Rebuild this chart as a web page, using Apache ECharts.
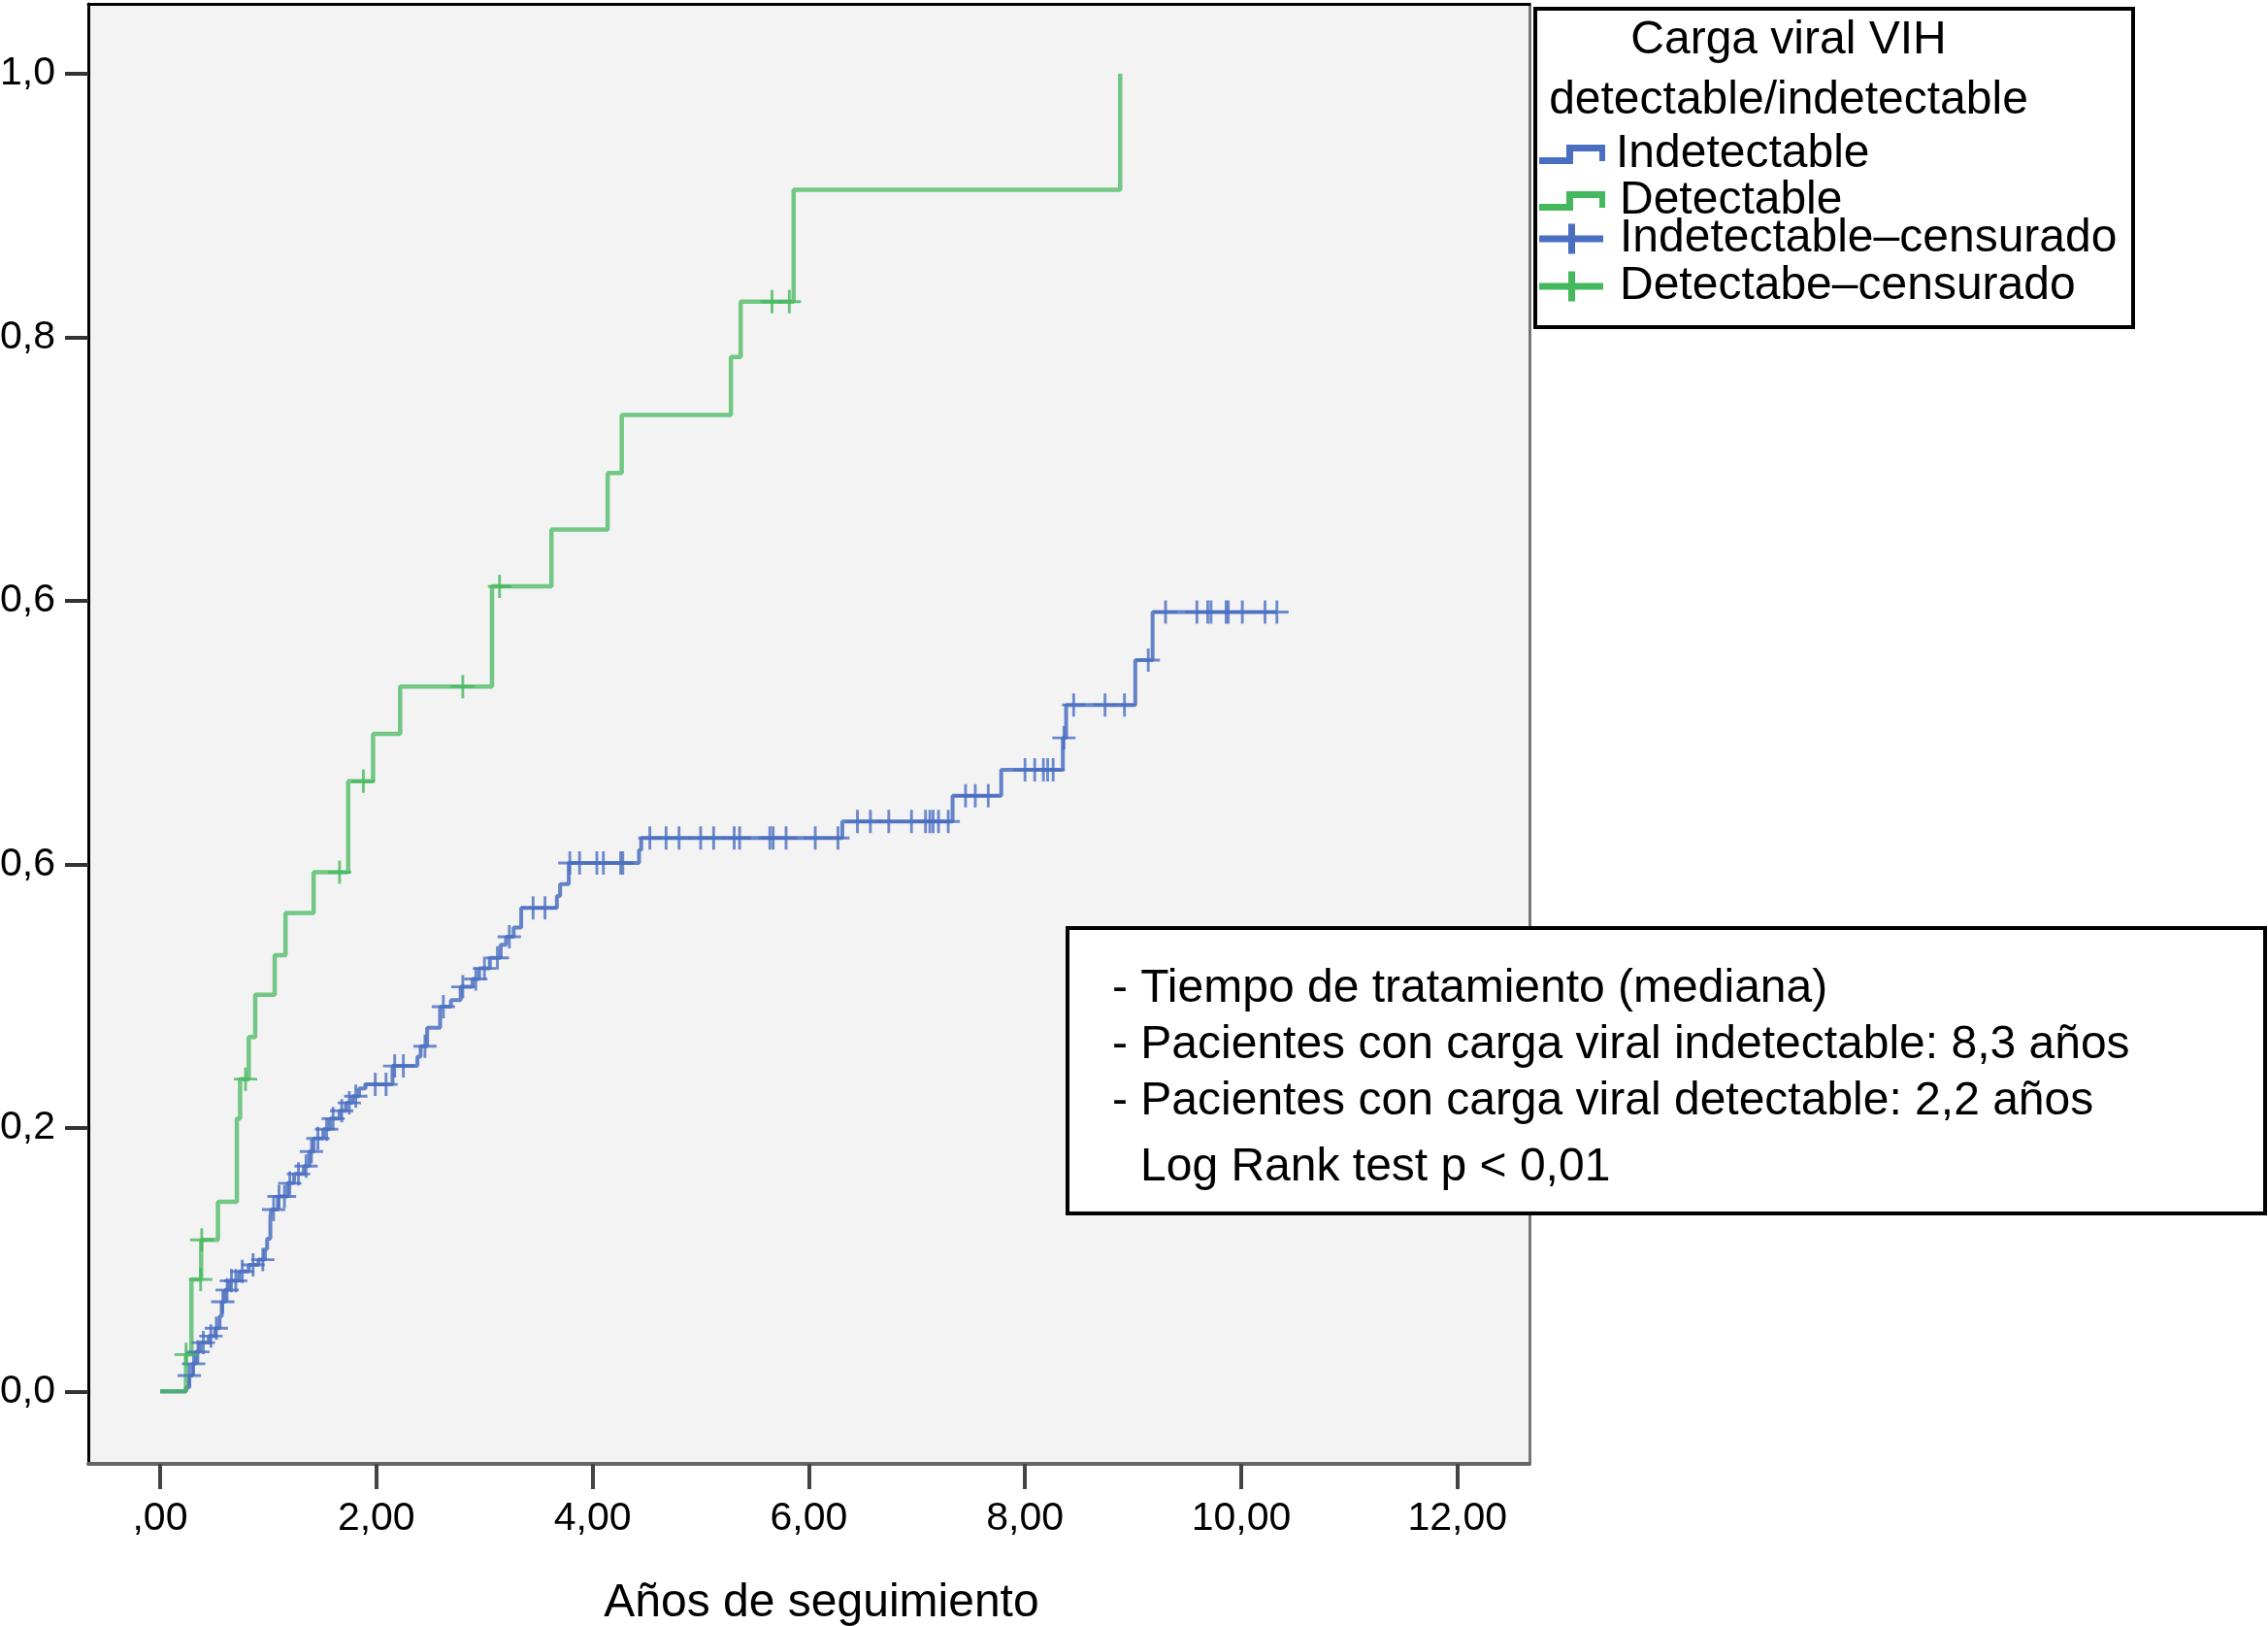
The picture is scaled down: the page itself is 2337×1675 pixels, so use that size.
<!DOCTYPE html>
<html>
<head>
<meta charset="utf-8">
<script src="https://cdn.jsdelivr.net/npm/echarts@6/dist/echarts.min.js"></script>
<style>
html,body{margin:0;padding:0;background:#fff;}
#chart{width:2337px;height:1675px;}
</style>
</head>
<body>
<div id="chart"></div>
<script>
// ---- Data ----
const xTickValues = [0, 2, 4, 6, 8, 10, 12];
const xTickLabels = [",00", "2,00", "4,00", "6,00", "8,00", "10,00", "12,00"];
const yTickValues = [0, 0.2, 0.4, 0.6, 0.8, 1.0];
const yTickLabels = ["0,0", "0,2", "0,6", "0,6", "0,8", "1,0"];

// Detectable (green) step curve: event times and cumulative value after each step
const greenTimes  = [0, 0.24, 0.29, 0.38, 0.535, 0.71, 0.74, 0.82, 0.88, 1.06, 1.16, 1.42, 1.74, 1.97, 2.22, 3.07, 3.62, 4.14, 4.27, 5.28, 5.37, 5.86, 8.88];
const greenValues = [0, 0.028, 0.085, 0.115, 0.144, 0.207, 0.237, 0.269, 0.301, 0.331, 0.363, 0.394, 0.463, 0.499, 0.535, 0.611, 0.654, 0.697, 0.741, 0.785, 0.827, 0.912, 1.0];
const greenCensorTimes = [0.24, 0.375, 0.385, 0.79, 1.66, 1.88, 2.80, 3.14, 5.66, 5.82];

// Indetectable (blue) step curve
const blueTimes  = [0, 0.24, 0.27, 0.30, 0.33, 0.37, 0.45, 0.51, 0.55, 0.57, 0.60, 0.64, 0.73, 0.82, 0.91, 0.97, 0.99, 1.02, 1.03, 1.09, 1.18, 1.24, 1.33, 1.38, 1.42, 1.51, 1.57, 1.66, 1.72, 1.78, 1.84, 1.90, 2.15, 2.38, 2.41, 2.47, 2.59, 2.69, 2.78, 2.89, 2.95, 3.05, 3.15, 3.20, 3.27, 3.34, 3.67, 3.70, 3.78, 4.43, 4.45, 6.31, 7.33, 7.78, 8.35, 8.38, 9.02, 9.18, 10.33];
const blueValues = [0, 0.003, 0.012, 0.021, 0.030, 0.037, 0.042, 0.048, 0.057, 0.068, 0.077, 0.084, 0.091, 0.096, 0.100, 0.108, 0.116, 0.133, 0.138, 0.148, 0.158, 0.165, 0.171, 0.182, 0.192, 0.199, 0.207, 0.213, 0.219, 0.224, 0.230, 0.233, 0.247, 0.254, 0.262, 0.276, 0.292, 0.297, 0.307, 0.313, 0.321, 0.329, 0.339, 0.345, 0.352, 0.367, 0.376, 0.385, 0.401, 0.411, 0.420, 0.4325, 0.452, 0.4717, 0.496, 0.521, 0.555, 0.5915, 0.5915];
const blueCensorTimes = [0.27, 0.31, 0.35, 0.40, 0.47, 0.52, 0.58, 0.62, 0.66, 0.70, 0.76, 0.86, 0.95, 1.05, 1.10, 1.15, 1.20, 1.28, 1.35, 1.40, 1.46, 1.54, 1.60, 1.68, 1.75, 1.81, 1.99, 2.09, 2.17, 2.25, 2.45, 2.62, 2.80, 2.92, 3.00, 3.12, 3.23, 3.45, 3.56, 3.79, 3.88, 4.04, 4.10, 4.26, 4.28,
  4.53, 4.68, 4.80, 5.00, 5.12, 5.31, 5.36, 5.64, 5.67, 5.79, 6.06, 6.27,
  6.45, 6.57, 6.74, 6.95, 7.08, 7.12, 7.15, 7.20, 7.29,
  7.45, 7.54, 7.66,
  8.00, 8.09, 8.17, 8.21, 8.26, 8.36,
  8.45, 8.74, 8.92, 9.14,
  9.30, 9.59, 9.69, 9.72, 9.86, 9.88, 10.01, 10.22, 10.33];

const legendTitle = ["Carga viral VIH", "detectable/indetectable"];
const seriesNames = ["Indetectable", "Detectable", "Indetectable\u2013censurado", "Detectabe\u2013censurado"];
const noteLines = [
  "- Tiempo de tratamiento (mediana)",
  "- Pacientes con carga viral indetectable: 8,3 a\u00f1os",
  "- Pacientes con carga viral detectable: 2,2 a\u00f1os",
  "Log Rank test p < 0,01"
];

// ---- Helpers ----
function stepAt(times, values, t) {
  let v = values[0];
  for (let i = 0; i < times.length; i++) { if (times[i] <= t + 1e-9) v = values[i]; }
  return v;
}
function labelFor(vals, labels) {
  return function (v) {
    const i = vals.findIndex(function (t) { return Math.abs(t - v) < 1e-6; });
    return i >= 0 ? labels[i] : '';
  };
}

const FONT = '"Liberation Sans", Arial, Helvetica, sans-serif';
const BLUE = '#4a6ec0';
const GREEN = '#45b85e';
const plusMark = 'path://M0,11L11,11L11,0L14,0L14,11L25,11L25,14L14,14L14,25L11,25L11,14L0,14Z';
const stepIcon = 'path://M0,13L28,13L28,0L68,0L68,17L62,17L62,7L35,7L35,20L0,20Z';
const plusIcon = 'path://M0,12L30,12L30,0L37,0L37,12L66,12L66,19L37,19L37,31L30,31L30,19L0,19Z';

const chart = echarts.init(document.getElementById('chart'), null, {renderer: 'canvas'});

function mkLegend(name, icon, color, centerY, w, h, gap) {
  return {
    data: [{name: name, icon: icon, itemStyle: {color: color, borderWidth: 0, opacity: 1}}],
    left: 1586, top: centerY - 24,
    orient: 'vertical', padding: 0, selectedMode: false,
    itemWidth: w, itemHeight: h,
    itemStyle: {color: color, borderWidth: 0},
    lineStyle: {width: 0},
    textStyle: {fontFamily: FONT, fontSize: 48, lineHeight: 48, color: '#000', padding: [0, 0, 0, gap]}
  };
}

const option = {
  backgroundColor: '#fff',
  animation: false,
  grid: {left: 91, right: 761, top: 4, bottom: 167, show: true, backgroundColor: '#f3f3f3', borderWidth: 0, outerBoundsMode: 'none', containLabel: false},
  xAxis: [{
    type: 'value', min: -0.664, max: 12.666, position: 'bottom',
    name: 'A\u00f1os de seguimiento', nameLocation: 'middle', nameGap: 120,
    nameTextStyle: {fontFamily: FONT, fontSize: 48, color: '#000', padding: [0, 0, 0, 26]},
    axisLine: {show: true, onZero: false, lineStyle: {color: '#666', width: 4}},
    axisTick: {show: true, length: 26, customValues: xTickValues, lineStyle: {color: '#444', width: 4}},
    axisLabel: {show: true, customValues: xTickValues, margin: 36, fontFamily: FONT, fontSize: 41, color: '#000', formatter: labelFor(xTickValues, xTickLabels)},
    splitLine: {show: false}
  }, {
    type: 'value', min: -0.664, max: 12.666, position: 'top',
    axisLine: {show: true, onZero: false, lineStyle: {color: '#000', width: 3}},
    axisTick: {show: false}, axisLabel: {show: false}, splitLine: {show: false}
  }],
  yAxis: [{
    type: 'value', min: -0.055, max: 1.053, position: 'left',
    axisLine: {show: true, onZero: false, lineStyle: {color: '#000', width: 3}},
    axisTick: {show: true, length: 24, customValues: yTickValues, lineStyle: {color: '#333', width: 4}},
    axisLabel: {show: true, customValues: yTickValues, margin: 34, fontFamily: FONT, fontSize: 41, color: '#000', formatter: labelFor(yTickValues, yTickLabels)},
    splitLine: {show: false}
  }, {
    type: 'value', min: -0.055, max: 1.053, position: 'right',
    axisLine: {show: true, onZero: false, lineStyle: {color: '#777', width: 3}},
    axisTick: {show: false}, axisLabel: {show: false}, splitLine: {show: false}
  }],
  legend: [
    mkLegend(seriesNames[0], stepIcon, BLUE, 159, 68, 20, 6),
    mkLegend(seriesNames[1], stepIcon, GREEN, 207, 68, 20, 10),
    mkLegend(seriesNames[2], plusIcon, BLUE, 246, 66, 31, 12),
    mkLegend(seriesNames[3], plusIcon, GREEN, 295, 66, 31, 12)
  ],
  series: [
    {
      name: seriesNames[0], type: 'line', step: 'end', symbol: 'none', showSymbol: false,
      data: blueTimes.map(function (t, i) { return [t, blueValues[i]]; }),
      lineStyle: {color: BLUE, width: 4, opacity: 0.85}, itemStyle: {color: BLUE}, z: 3
    },
    {
      name: seriesNames[1], type: 'line', step: 'end', symbol: 'none', showSymbol: false,
      data: greenTimes.map(function (t, i) { return [t, greenValues[i]]; }),
      lineStyle: {color: GREEN, width: 4.5, opacity: 0.75}, itemStyle: {color: GREEN}, z: 3
    },
    {
      name: seriesNames[2], type: 'scatter', symbol: plusMark, symbolSize: 24,
      data: blueCensorTimes.map(function (t) { return [t, stepAt(blueTimes, blueValues, t)]; }),
      itemStyle: {color: BLUE, opacity: 0.8}, z: 4
    },
    {
      name: seriesNames[3], type: 'scatter', symbol: plusMark, symbolSize: 24,
      data: greenCensorTimes.map(function (t) { return [t, stepAt(greenTimes, greenValues, t)]; }),
      itemStyle: {color: GREEN, opacity: 0.8}, z: 4
    }
  ],
  graphic: [
    {type: 'rect', z: 1, shape: {x: 1582, y: 9, width: 616, height: 328}, style: {fill: '#fff', stroke: '#000', lineWidth: 4}},
    {type: 'text', z: 5, style: {text: legendTitle[0], x: 1843, y: 42, fill: '#000', font: '48px ' + FONT, textAlign: 'center', textVerticalAlign: 'middle'}},
    {type: 'text', z: 5, style: {text: legendTitle[1], x: 1843, y: 104, fill: '#000', font: '48px ' + FONT, textAlign: 'center', textVerticalAlign: 'middle'}},
    {type: 'rect', z: 100, shape: {x: 1100, y: 956, width: 1234, height: 294}, style: {fill: '#fff', stroke: '#000', lineWidth: 4}},
    {type: 'text', z: 101, style: {text: noteLines[0], x: 1146, y: 1019, fill: '#000', font: '48px ' + FONT, textAlign: 'left', textVerticalAlign: 'middle'}},
    {type: 'text', z: 101, style: {text: noteLines[1], x: 1146, y: 1077, fill: '#000', font: '48px ' + FONT, textAlign: 'left', textVerticalAlign: 'middle'}},
    {type: 'text', z: 101, style: {text: noteLines[2], x: 1146, y: 1135, fill: '#000', font: '48px ' + FONT, textAlign: 'left', textVerticalAlign: 'middle'}},
    {type: 'text', z: 101, style: {text: noteLines[3], x: 1175, y: 1203, fill: '#000', font: '48px ' + FONT, textAlign: 'left', textVerticalAlign: 'middle'}}
  ]
};
chart.setOption(option);
</script>
</body>
</html>
